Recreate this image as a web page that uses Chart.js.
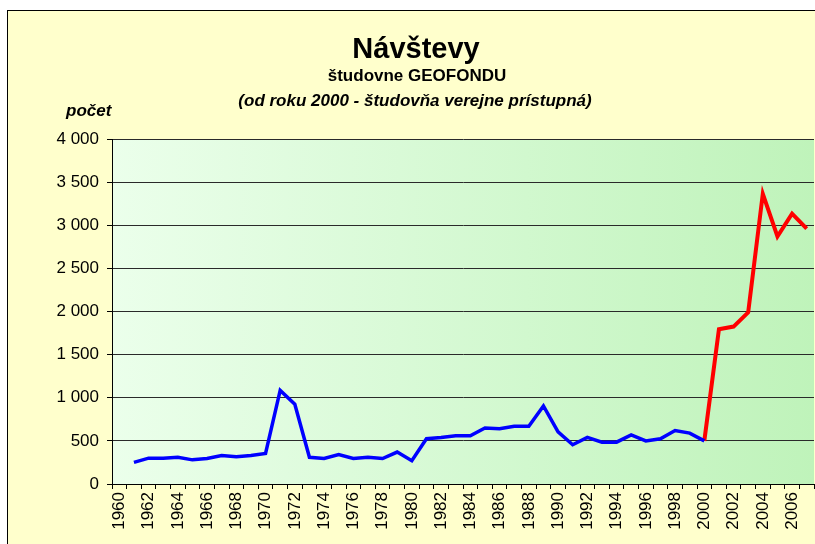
<!DOCTYPE html>
<html>
<head>
<meta charset="utf-8">
<script src="https://cdn.jsdelivr.net/npm/chart.js@4/dist/chart.umd.min.js"></script>
<style>
    html, body { margin: 0; padding: 0; background: #ffffff; }
    canvas { display: block; }
</style>
</head>
<body>
<canvas id="navstevy-graph" width="815" height="544"></canvas>
<script>
// roky 1960 - 2007
const years = [];
for (let y = 1960; y <= 2007; y++) years.push(String(y));

// študovňa GEOFONDU do roku 2000
const visitsBefore = [
    null, 250, 300, 300, 310, 280, 295, 330, 315, 330,
    355, 1085, 925, 310, 295, 340, 295, 310, 295, 370,
    270, 525, 540, 560, 560, 650, 640, 670, 670, 905,
    605, 455, 540, 485, 485, 570, 500, 525, 620, 590,
    500, null, null, null, null, null, null, null
];

// od roku 2000 - verejne prístupná
const visitsAfter = [
    null, null, null, null, null, null, null, null, null, null,
    null, null, null, null, null, null, null, null, null, null,
    null, null, null, null, null, null, null, null, null, null,
    null, null, null, null, null, null, null, null, null, null,
    500, 1795, 1825, 1990, 3365, 2870, 3135, 2960
];

const yTicks = [0, 500, 1000, 1500, 2000, 2500, 3000, 3500, 4000];

const FONT = "Arial, 'Liberation Sans', sans-serif";

const frameAndTitles = {
    id: "frameAndTitles",
    beforeDraw(chart) {
        const ctx = chart.ctx;
        const area = chart.chartArea;
        ctx.save();
        // žltý rámec grafu
        ctx.fillStyle = "#ffffcc";
        ctx.fillRect(7.5, 10.5, chart.width, chart.height);
        ctx.strokeStyle = "#000000";
        ctx.lineWidth = 1;
        ctx.strokeRect(7.5, 10.5, chart.width + 10, chart.height + 10);

        // pozadie oblasti grafu - prechod do zelenej
        const grad = ctx.createLinearGradient(area.left, 0, area.right, 0);
        grad.addColorStop(0, "#ebffeb");
        grad.addColorStop(1, "#bff3ba");
        ctx.fillStyle = grad;
        ctx.fillRect(area.left, area.top, area.right - area.left, area.bottom - area.top);
        ctx.restore();
    },
    afterDraw(chart) {
        const ctx = chart.ctx;
        ctx.save();
        ctx.fillStyle = "#000000";
        ctx.textAlign = "center";
        ctx.textBaseline = "alphabetic";
        ctx.font = "bold 29px " + FONT;
        ctx.fillText("Návštevy", 416, 58);
        ctx.font = "bold 17px " + FONT;
        ctx.fillText("študovne GEOFONDU", 417, 81);
        ctx.font = "italic bold 17px " + FONT;
        ctx.fillText("(od roku 2000 - študovňa verejne prístupná)", 415, 106);
        ctx.textAlign = "left";
        ctx.fillText("počet", 66, 116);
        ctx.restore();
    }
};

new Chart(document.getElementById("navstevy-graph"), {
    type: "line",
    data: {
        labels: years,
        datasets: [
            {
                label: "do 2000",
                data: visitsBefore,
                borderColor: "#0000ff",
                borderWidth: 3.5,
                pointRadius: 0,
                tension: 0,
                spanGaps: false,
            },
            {
                label: "od 2000",
                data: visitsAfter,
                borderColor: "#ff0000",
                borderWidth: 4,
                pointRadius: 0,
                tension: 0,
                spanGaps: false,
            },
        ],
    },
    options: {
        responsive: false,
        animation: false,
        layout: {
            padding: { left: 10, right: 1, top: 139, bottom: 0 },
        },
        plugins: {
            legend: { display: false },
            tooltip: { enabled: false },
        },
        scales: {
            x: {
                type: "category",
                offset: true,
                afterFit: (scale) => {
                    scale.height = 60;
                    scale.paddingLeft = 0;
                    scale.paddingRight = 0;
                },
                border: { display: true, color: "#000000", width: 1 },
                grid: {
                    offset: true,
                    drawOnChartArea: false,
                    drawTicks: true,
                    tickLength: 5,
                    color: "#000000",
                },
                ticks: {
                    autoSkip: false,
                    minRotation: 90,
                    maxRotation: 90,
                    padding: 3,
                    color: "#000000",
                    font: { family: FONT, size: 17 },
                    callback: function (value, index) {
                        const label = this.getLabelForValue(value);
                        return Number(label) % 2 === 0 ? label : "";
                    },
                },
            },
            y: {
                min: 0,
                max: 4000,
                afterFit: (scale) => {
                    scale.width = 102;
                    scale.paddingTop = 0;
                    scale.paddingBottom = 0;
                },
                afterBuildTicks: (scale) => {
                    scale.ticks = yTicks.map(v => ({ value: v }));
                },
                border: { display: true, color: "#000000", width: 1 },
                grid: {
                    color: "#2a2a2a",
                    lineWidth: 1,
                    drawTicks: true,
                    tickLength: 5,
                    tickColor: "#000000",
                },
                ticks: {
                    padding: 8,
                    color: "#000000",
                    font: { family: FONT, size: 17 },
                    callback: (v) => v >= 1000
                        ? Math.floor(v / 1000) + " " + String(v % 1000).padStart(3, "0")
                        : String(v),
                },
            },
        },
    },
    plugins: [frameAndTitles],
});
</script>
</body>
</html>
